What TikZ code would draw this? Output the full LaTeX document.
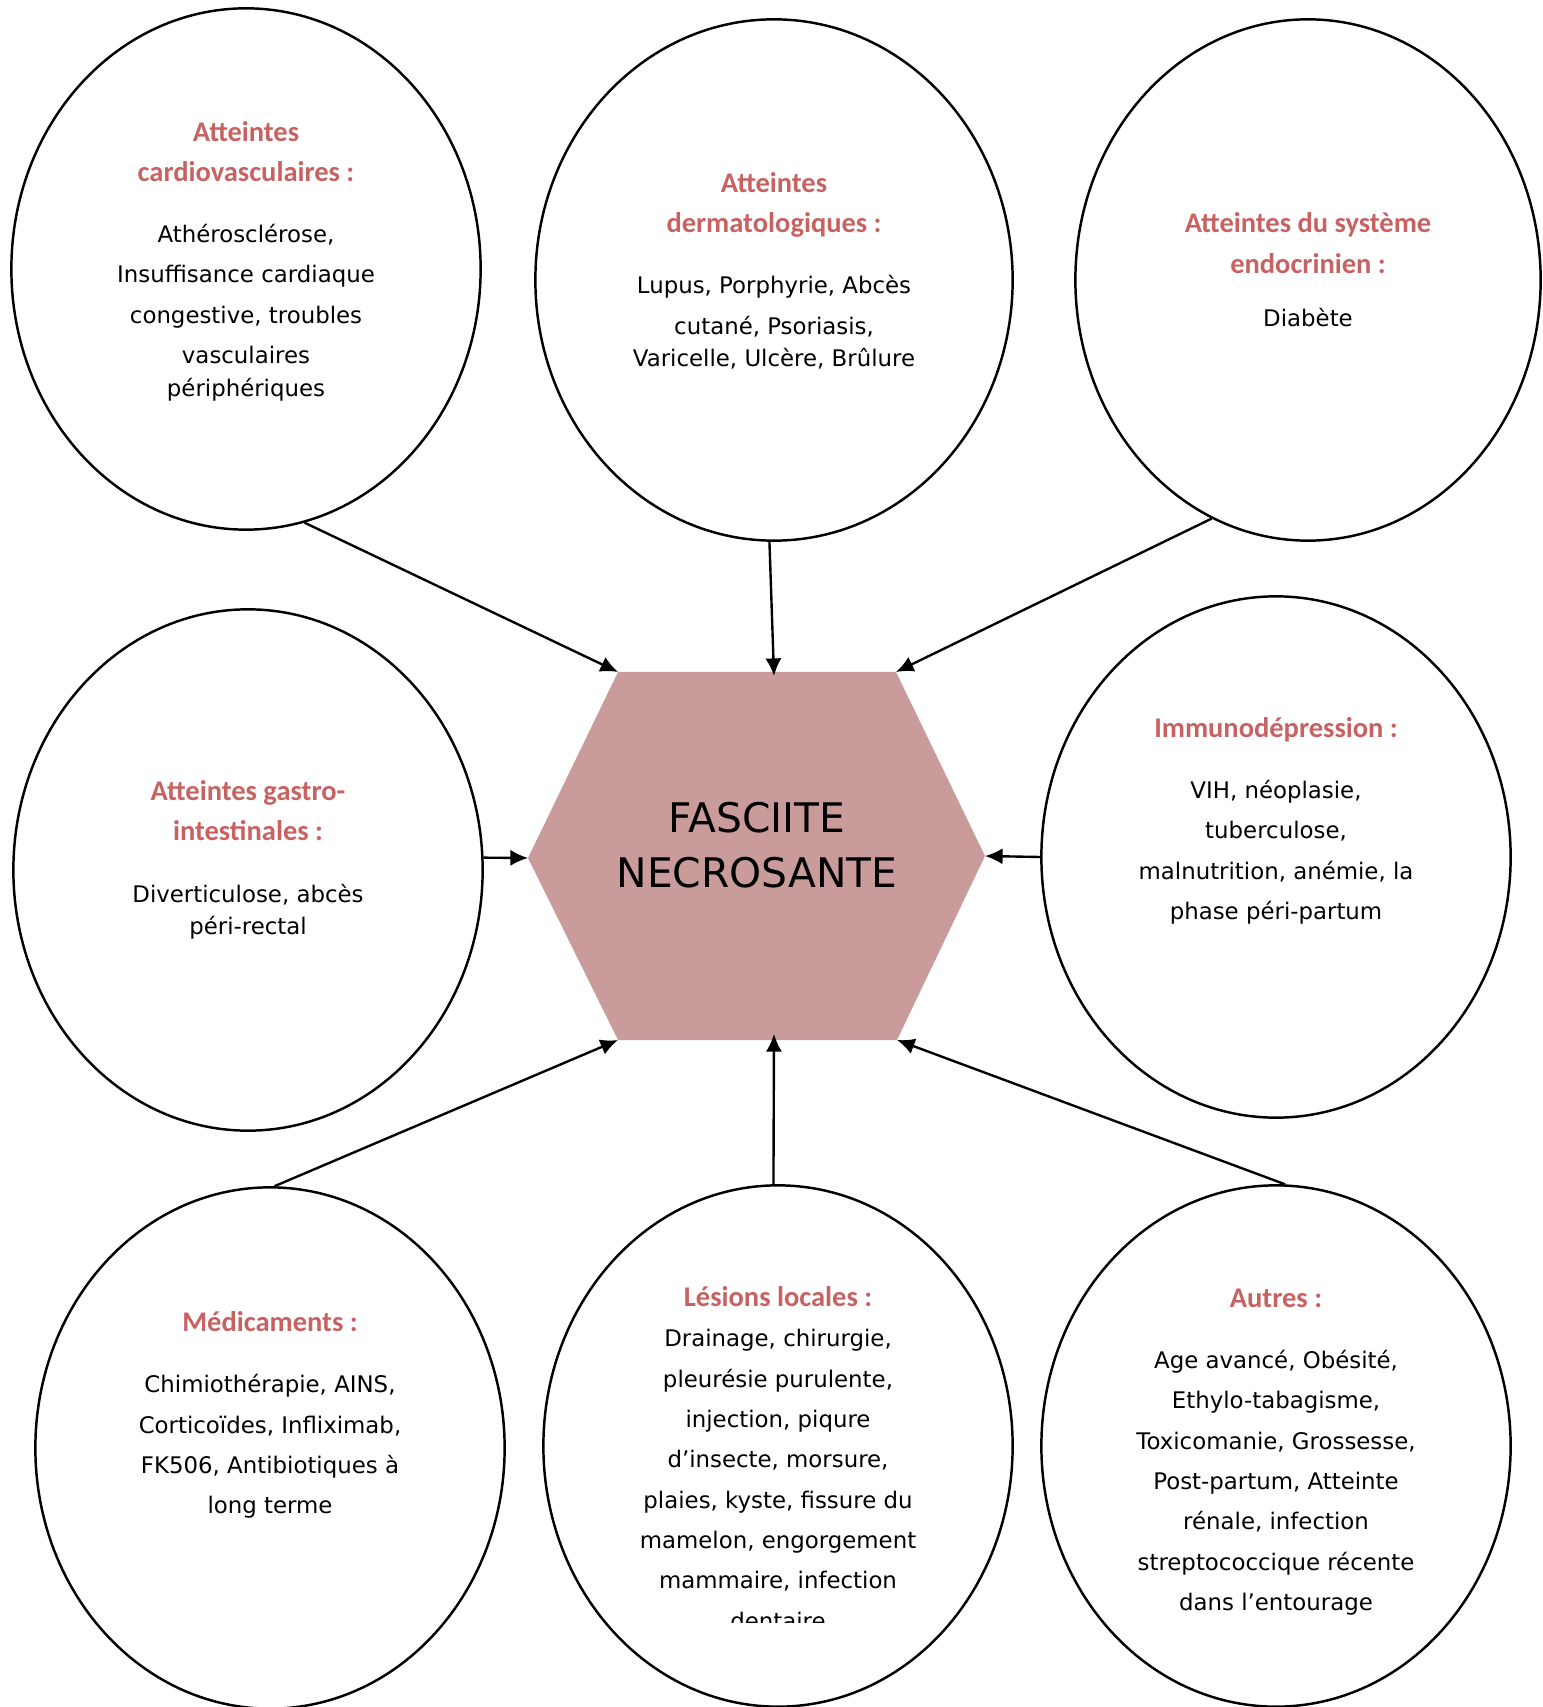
\documentclass[tikz,border=0pt]{standalone}
\usepackage{fontspec}
\setmainfont{DejaVu Sans}
\newfontfamily\titlefont{Carlito}
\usetikzlibrary{shapes.geometric,arrows.meta}
\definecolor{rosehex}{RGB}{202,155,155}
\definecolor{rougetitre}{RGB}{200,98,98}
\newcommand{\titre}[1]{{\titlefont\bfseries\fontsize{8.1}{11.47}\selectfont\color{rougetitre}#1}}
\tikzset{bulle/.style={ellipse, draw, line width=0.7pt, minimum width=4.69cm,
    minimum height=5.21cm, inner sep=0pt},
  texte/.style={align=center, font=\fontsize{6.5}{11.47}\selectfont},
  fleche/.style={-{Latex[length=5pt,width=4.6pt]}, line width=0.68pt}}

\begin{document}
\begin{tikzpicture}[x=0.01cm,y=-0.01cm]
  \useasboundingbox (0,0) rectangle (1542,1707);

  % les bulles
  \node[bulle]                   (cardio)  at (246,269)  {};
  \node[bulle,minimum width=4.77cm] (dermato) at (774,280) {};
  \node[bulle,minimum width=4.65cm] (endo)  at (1308,280) {};
  \node[bulle]                   (gastro)  at (248,870)  {};
  \node[bulle]                   (immuno)  at (1276,857) {};
  \node[bulle]                   (medic)   at (270,1448) {};
  \node[bulle]                   (lesions) at (778,1446) {};
  \node[bulle]                   (autres)  at (1276,1446) {};

  \node[texte] (cardioTxt) at (246,261) {\titre{Atteintes}\\\titre{cardiovasculaires :}\\[5.9pt]
    Athérosclérose,\\Insuffisance cardiaque\\congestive, troubles\\vasculaires\\[-2.2pt]périphériques};
  \node[texte] (dermatoTxt) at (774,271) {\titre{Atteintes}\\\titre{dermatologiques :}\\[5.9pt]
    Lupus, Porphyrie, Abcès\\cutané, Psoriasis,\\[-2.2pt]Varicelle, Ulcère, Brûlure};
  \node[texte] (endoTxt) at (1308,270) {\titre{Atteintes du système}\\\titre{endocrinien :}\\[3.7pt]Diabète};
  \node[texte] (gastroTxt) at (248,860) {\titre{Atteintes gastro-}\\\titre{intestinales :}\\[5.9pt]
    Diverticulose, abcès\\[-2.2pt]péri-rectal};
  \node[texte] (immunoTxt) at (1276,821) {\titre{Immunodépression :}\\[5.9pt]
    VIH, néoplasie,\\tuberculose,\\malnutrition, anémie, la\\phase péri-partum};
  \node[texte] (medicTxt) at (270,1415) {\titre{Médicaments :}\\[5.9pt]
    Chimiothérapie, AINS,\\Corticoïdes, Infliximab,\\FK506, Antibiotiques à\\long terme};
  \begin{scope}
    \clip (500,1150) rectangle (1060,1622);
    \node[texte] (lesionsTxt) at (778,1458) {\titre{Lésions locales :}\\
      Drainage, chirurgie,\\pleurésie purulente,\\injection, piqure\\d’insecte, morsure,\\
      plaies, kyste, fissure du\\mamelon, engorgement\\mammaire, infection\\dentaire};
  \end{scope}
  \node[texte] (autresTxt) at (1276,1452) {\titre{Autres :}\\[5.9pt]
    Age avancé, Obésité,\\Ethylo-tabagisme,\\Toxicomanie, Grossesse,\\Post-partum, Atteinte\\
    rénale, infection\\streptococcique récente\\dans l’entourage};

  % l'hexagone central
  \coordinate (hexTL) at (618,672);
  \coordinate (hexTR) at (896,672);
  \coordinate (hexR)  at (985,856);
  \coordinate (hexBR) at (897,1040);
  \coordinate (hexBL) at (618,1040);
  \coordinate (hexL)  at (528,858);
  \coordinate (hexT)  at (774,676);
  \coordinate (hexB)  at (774,1034);
  \fill[rosehex] (hexTL) -- (hexTR) -- (hexR) -- (hexBR) -- (hexBL) -- (hexL) -- cycle;
  \node[align=center,font=\fontsize{11.6}{15.6}\selectfont] (fasciite) at (757,845) {FASCIITE\\NECROSANTE};

  \draw[fleche] (cardio.-77.6) -- (hexTL);
  \draw[fleche] (dermato.-91) -- (hexT);
  \draw[fleche] (endo.-112.7) -- (hexTR);
  \draw[fleche] (gastro.3) -- (hexL);
  \draw[fleche] (immuno.180) -- (hexR);
  \draw[fleche] (medic.89) -- (hexBL);
  \draw[fleche] (lesions.91) -- (hexB);
  \draw[fleche] (autres.88.5) -- (hexBR);
\end{tikzpicture}
\end{document}
